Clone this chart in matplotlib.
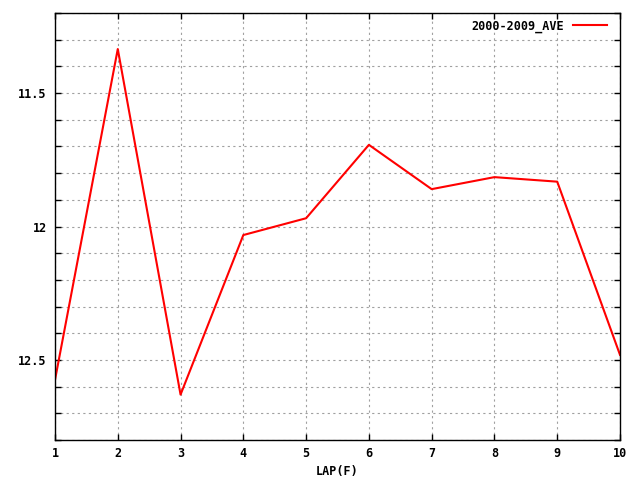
import numpy as np
import matplotlib
matplotlib.use("Agg")
import matplotlib.pyplot as plt
from matplotlib.ticker import MultipleLocator, FuncFormatter

# dati (asse y invertito)
laps = [1, 2, 3, 4, 5, 6, 7, 8, 9, 10]
ave_2000_2009 = [12.575, 11.335, 12.63, 12.032, 11.969, 11.694, 11.86, 11.815, 11.832, 12.481]
series_label = "2000-2009_AVE"

plt.rcParams['font.family'] = ['DejaVu Sans Mono']

fig = plt.figure(figsize=(6.4, 4.8), dpi=100)
ax = fig.add_axes([55 / 640, 40 / 480, 565 / 640, 427 / 480])

ax.plot(laps, ave_2000_2009, color='#ff0000', linewidth=1.5, label=series_label)

ax.set_xlim(1, 10)
ax.set_ylim(12.8, 11.2)

ax.xaxis.set_major_locator(MultipleLocator(1))
ax.yaxis.set_major_locator(MultipleLocator(0.1))


def ylab(v, pos):
    # etichette solo ogni 0.5
    if abs(v * 2 - round(v * 2)) < 1e-6:
        return f"{v:g}"
    return ""


ax.yaxis.set_major_formatter(FuncFormatter(ylab))

ax.grid(True, color='#a0a0a0', linestyle=(0, (2, 3)), linewidth=0.8)
ax.tick_params(axis='both', direction='in', length=4, width=1,
               top=True, right=True, labelsize=8.5)
ax.tick_params(axis='x', pad=5)
ax.tick_params(axis='y', pad=6)
for lbl in ax.get_xticklabels() + ax.get_yticklabels():
    lbl.set_fontweight('bold')
for sp in ax.spines.values():
    sp.set_linewidth(1)

ax.set_xlabel('LAP(F)', fontsize=8.5, fontweight='bold', labelpad=4)

leg = ax.legend(loc='upper right', bbox_to_anchor=(0.981, 0.991), frameon=False,
                handlelength=2.9, borderaxespad=0, handletextpad=0.7, borderpad=0.2,
                markerfirst=False, prop={'weight': 'bold', 'size': 8.5})

fig.savefig('out.png', dpi=100)
